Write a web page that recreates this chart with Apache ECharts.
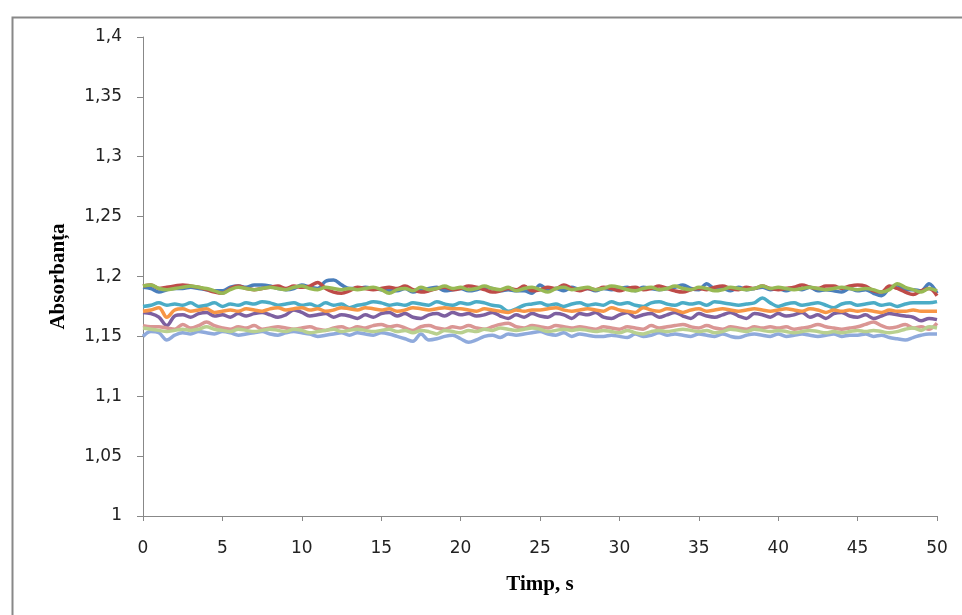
<!DOCTYPE html>
<html>
<head>
<meta charset="utf-8">
<script src="https://cdn.jsdelivr.net/npm/echarts@6/dist/echarts.min.js"></script>
<style>
html,body{margin:0;padding:0;background:#fff;}
#chart{width:962px;height:615px;}
</style>
</head>
<body>
<div id="chart"></div>
<script>
// time step between samples (s)
const timeStep = 0.5;
const xTicks = [0,5,10,15,20,25,30,35,40,45,50];
const yTicks = [1,1.05,1.1,1.15,1.2,1.25,1.3,1.35,1.4];
const seriesNames = ['S1','S2','S3','S4','S5','S6','S7','S8','S9'];
const seriesColors = ['#4A7EBB','#BE4B48','#98B954','#7D60A0','#4BACC6','#F79646','#8FAADC','#DA9694','#B9D08F'];

const blue = [
1.191,1.190,1.187,1.189,1.190,1.190,1.191,1.190,1.189,1.188,
1.188,1.191,1.192,1.191,1.193,1.193,1.192,1.190,1.189,1.190,
1.193,1.191,1.190,1.196,1.197,1.193,1.190,1.190,1.191,1.190,
1.189,1.188,1.188,1.190,1.187,1.189,1.190,1.191,1.188,1.189,
1.190,1.188,1.189,1.191,1.190,1.188,1.189,1.188,1.188,1.186,
1.193,1.189,1.190,1.188,1.191,1.189,1.190,1.188,1.190,1.189,
1.190,1.191,1.188,1.191,1.190,1.189,1.190,1.191,1.193,1.190,
1.189,1.194,1.190,1.190,1.188,1.191,1.189,1.190,1.191,1.189,
1.190,1.188,1.190,1.189,1.191,1.188,1.189,1.188,1.187,1.190,
1.188,1.189,1.186,1.184,1.190,1.193,1.189,1.189,1.188,1.194,
1.186];
const red = [
1.192,1.193,1.190,1.191,1.192,1.193,1.192,1.191,1.189,1.187,
1.186,1.190,1.192,1.190,1.189,1.190,1.191,1.192,1.190,1.192,
1.191,1.192,1.195,1.190,1.187,1.186,1.188,1.191,1.190,1.189,
1.190,1.191,1.190,1.192,1.189,1.187,1.188,1.190,1.191,1.189,
1.190,1.192,1.191,1.189,1.187,1.188,1.190,1.189,1.192,1.188,
1.189,1.191,1.190,1.193,1.190,1.188,1.190,1.189,1.191,1.190,
1.188,1.190,1.191,1.189,1.190,1.192,1.190,1.188,1.187,1.189,
1.190,1.189,1.191,1.192,1.190,1.189,1.191,1.190,1.192,1.190,
1.189,1.190,1.191,1.193,1.191,1.190,1.192,1.192,1.190,1.192,
1.193,1.192,1.188,1.187,1.192,1.190,1.187,1.185,1.188,1.190,
1.184];
const green = [
1.192,1.193,1.190,1.189,1.190,1.191,1.192,1.191,1.190,1.188,
1.186,1.189,1.191,1.190,1.189,1.190,1.191,1.190,1.189,1.191,
1.192,1.190,1.189,1.191,1.190,1.189,1.190,1.189,1.190,1.191,
1.189,1.186,1.189,1.190,1.188,1.191,1.189,1.190,1.192,1.190,
1.191,1.189,1.190,1.192,1.190,1.189,1.191,1.188,1.190,1.191,
1.189,1.187,1.190,1.191,1.189,1.190,1.191,1.189,1.190,1.192,
1.191,1.189,1.188,1.190,1.191,1.189,1.190,1.192,1.190,1.189,
1.191,1.190,1.188,1.189,1.191,1.190,1.189,1.190,1.192,1.190,
1.191,1.190,1.189,1.190,1.191,1.190,1.189,1.190,1.191,1.190,
1.189,1.190,1.189,1.187,1.189,1.194,1.191,1.189,1.187,1.190,
1.188];
const purple = [
1.170,1.169,1.166,1.159,1.167,1.168,1.166,1.169,1.170,1.167,
1.168,1.166,1.169,1.167,1.169,1.170,1.168,1.166,1.168,1.172,
1.170,1.167,1.168,1.169,1.166,1.168,1.167,1.165,1.168,1.166,
1.169,1.170,1.167,1.169,1.166,1.165,1.168,1.169,1.167,1.170,
1.168,1.169,1.167,1.168,1.170,1.167,1.165,1.168,1.166,1.169,
1.167,1.166,1.169,1.168,1.165,1.169,1.168,1.170,1.166,1.165,
1.168,1.170,1.166,1.168,1.169,1.166,1.168,1.170,1.167,1.165,
1.169,1.167,1.166,1.168,1.170,1.167,1.165,1.169,1.168,1.166,
1.169,1.167,1.168,1.170,1.166,1.168,1.165,1.169,1.170,1.167,
1.166,1.168,1.165,1.167,1.169,1.168,1.167,1.166,1.163,1.165,
1.164];
const aqua = [
1.175,1.176,1.178,1.176,1.177,1.176,1.178,1.175,1.176,1.178,
1.175,1.177,1.176,1.178,1.177,1.179,1.178,1.176,1.177,1.178,
1.176,1.177,1.175,1.178,1.176,1.177,1.174,1.176,1.177,1.179,
1.178,1.176,1.177,1.176,1.178,1.177,1.176,1.179,1.177,1.176,
1.178,1.177,1.179,1.178,1.176,1.175,1.171,1.173,1.176,1.177,
1.178,1.176,1.177,1.175,1.177,1.178,1.176,1.177,1.176,1.179,
1.177,1.178,1.176,1.175,1.178,1.179,1.177,1.176,1.178,1.177,
1.178,1.176,1.179,1.178,1.177,1.176,1.177,1.178,1.182,1.178,
1.175,1.177,1.178,1.176,1.177,1.178,1.176,1.174,1.177,1.178,
1.176,1.177,1.178,1.176,1.177,1.175,1.177,1.178,1.178,1.178,
1.179];
const orange = [
1.171,1.172,1.174,1.166,1.172,1.173,1.171,1.172,1.173,1.170,
1.171,1.172,1.171,1.173,1.172,1.171,1.173,1.174,1.172,1.173,
1.174,1.172,1.173,1.171,1.172,1.174,1.173,1.172,1.174,1.173,
1.172,1.173,1.171,1.172,1.174,1.173,1.172,1.173,1.174,1.173,
1.173,1.172,1.171,1.173,1.172,1.171,1.170,1.172,1.171,1.172,
1.172,1.173,1.174,1.172,1.171,1.172,1.173,1.172,1.171,1.174,
1.172,1.171,1.170,1.174,1.172,1.171,1.173,1.172,1.170,1.172,
1.173,1.171,1.172,1.173,1.172,1.171,1.172,1.173,1.172,1.171,
1.172,1.173,1.172,1.171,1.173,1.172,1.170,1.172,1.171,1.172,
1.171,1.172,1.171,1.170,1.172,1.171,1.171,1.172,1.171,1.171,
1.171];
const lightBlue = [
1.150,1.154,1.153,1.147,1.151,1.153,1.152,1.154,1.153,1.152,
1.154,1.153,1.151,1.152,1.153,1.154,1.152,1.151,1.153,1.154,
1.153,1.152,1.150,1.151,1.152,1.153,1.151,1.153,1.152,1.151,
1.153,1.152,1.150,1.148,1.146,1.152,1.147,1.148,1.150,1.151,
1.148,1.145,1.147,1.150,1.151,1.149,1.152,1.151,1.152,1.153,
1.154,1.152,1.151,1.153,1.150,1.152,1.151,1.150,1.150,1.151,
1.150,1.149,1.152,1.150,1.151,1.153,1.151,1.152,1.151,1.150,
1.152,1.151,1.150,1.152,1.150,1.149,1.151,1.152,1.151,1.150,
1.152,1.150,1.151,1.152,1.151,1.150,1.151,1.152,1.150,1.151,
1.151,1.152,1.150,1.151,1.149,1.148,1.147,1.149,1.151,1.152,
1.152];
const pink = [
1.159,1.158,1.158,1.157,1.156,1.160,1.157,1.159,1.162,1.159,
1.157,1.156,1.158,1.157,1.159,1.156,1.157,1.158,1.157,1.156,
1.157,1.158,1.156,1.155,1.157,1.158,1.156,1.158,1.157,1.159,
1.160,1.158,1.159,1.157,1.155,1.158,1.159,1.157,1.156,1.158,
1.157,1.159,1.157,1.156,1.158,1.160,1.161,1.158,1.157,1.159,
1.158,1.157,1.159,1.158,1.157,1.158,1.157,1.156,1.158,1.157,
1.156,1.158,1.157,1.156,1.159,1.157,1.158,1.159,1.160,1.158,
1.157,1.159,1.157,1.156,1.158,1.157,1.156,1.158,1.157,1.158,
1.157,1.158,1.156,1.157,1.158,1.160,1.158,1.157,1.156,1.157,
1.158,1.160,1.162,1.159,1.157,1.158,1.160,1.157,1.158,1.156,
1.161];
const lightGreen = [
1.157,1.156,1.155,1.154,1.155,1.156,1.155,1.156,1.158,1.156,
1.155,1.154,1.156,1.155,1.154,1.155,1.156,1.155,1.154,1.156,
1.155,1.153,1.154,1.155,1.156,1.154,1.155,1.156,1.155,1.154,
1.155,1.156,1.154,1.155,1.153,1.155,1.154,1.152,1.155,1.154,
1.153,1.155,1.154,1.156,1.155,1.157,1.156,1.155,1.156,1.157,
1.156,1.154,1.155,1.156,1.155,1.156,1.155,1.154,1.155,1.154,
1.153,1.155,1.153,1.152,1.154,1.155,1.154,1.155,1.156,1.155,
1.154,1.155,1.153,1.154,1.156,1.155,1.154,1.156,1.155,1.154,
1.155,1.154,1.153,1.154,1.155,1.154,1.153,1.154,1.153,1.154,
1.155,1.154,1.155,1.154,1.153,1.154,1.156,1.157,1.155,1.158,
1.157];

const seriesValues = [blue, red, green, purple, aqua, orange, lightBlue, pink, lightGreen];

const fmt = v => String(+(+v).toFixed(2)).replace('.', ',');

const chart = echarts.init(document.getElementById('chart'), null, {renderer:'canvas'});
chart.setOption({
  animation:false,
  backgroundColor:'#fff',
  grid:{left:143, right:25, top:37, bottom:99, containLabel:false},
  xAxis:{
    type:'value', min:xTicks[0], max:xTicks[xTicks.length-1], interval:5,
    name:'Timp, s', nameLocation:'middle', nameGap:58,
    nameTextStyle:{fontFamily:'Liberation Serif', fontWeight:'bold', fontSize:21, color:'#000'},
    axisLine:{lineStyle:{color:'#888', width:1}},
    axisTick:{show:true, inside:false, length:5, lineStyle:{color:'#888'}},
    axisLabel:{margin:24, fontFamily:'DejaVu Sans', fontSize:17, color:'#222', formatter:fmt},
    splitLine:{show:false}
  },
  yAxis:{
    type:'value', min:yTicks[0], max:yTicks[yTicks.length-1], interval:0.05,
    name:'Absorbanța', nameLocation:'middle', nameGap:74, nameRotate:90,
    nameTextStyle:{fontFamily:'Liberation Serif', fontWeight:'bold', fontSize:21, color:'#000'},
    axisLine:{show:true, lineStyle:{color:'#888', width:1}},
    axisTick:{show:true, inside:false, length:6, lineStyle:{color:'#888'}},
    axisLabel:{margin:21, fontFamily:'DejaVu Sans', fontSize:17, color:'#222', formatter:fmt},
    splitLine:{show:false}
  },
  graphic:[{
    type:'rect', left:10, top:15, silent:true, z:-1,
    shape:{width:1000, height:700},
    style:{fill:'none', stroke:'#888', lineWidth:2}
  }],
  series: seriesValues.map((vals, k) => ({
    name: seriesNames[k],
    type:'line',
    smooth:0.35,
    showSymbol:false,
    symbol:'none',
    data: vals.map((v, i) => [i * timeStep, v]),
    lineStyle:{color:seriesColors[k], width:3.5},
    itemStyle:{color:seriesColors[k]}
  }))
});
</script>
</body>
</html>
